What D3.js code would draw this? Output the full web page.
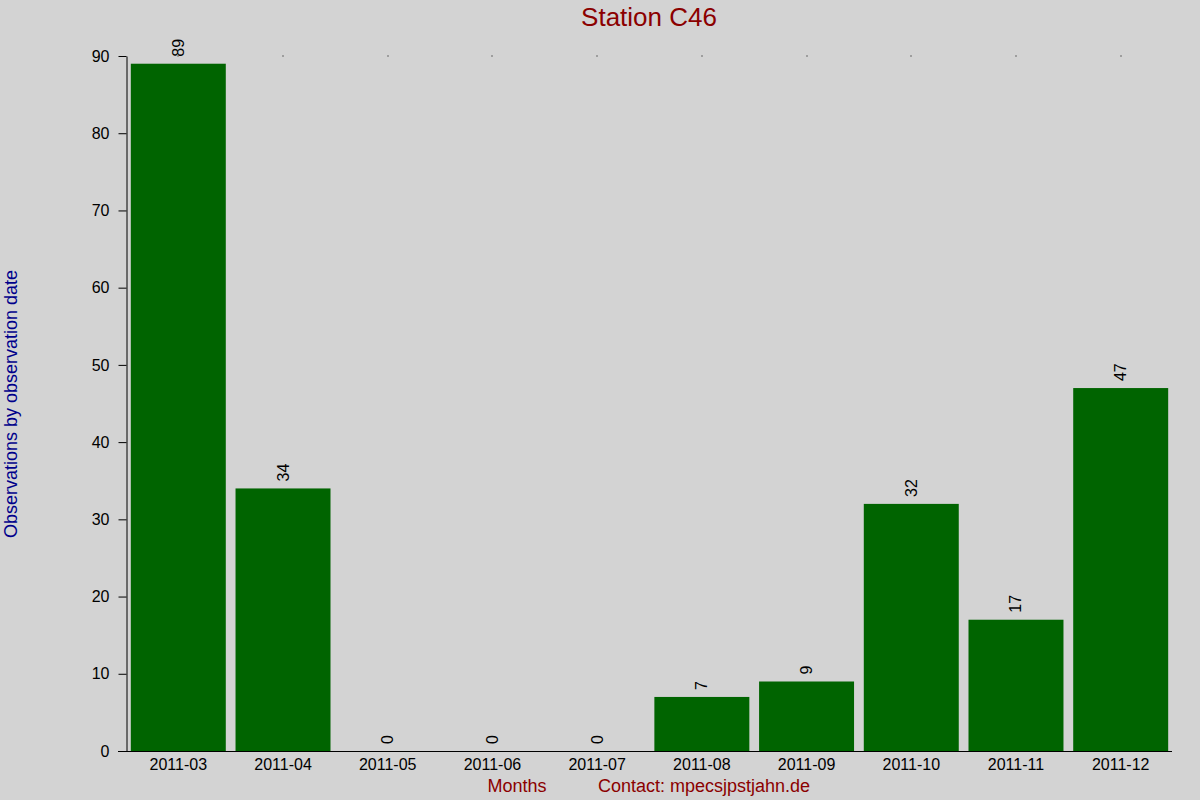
<!DOCTYPE html>
<html>
<head>
<meta charset="utf-8">
<script src="https://cdn.jsdelivr.net/npm/d3@7"></script>
<style>
  html, body { margin: 0; padding: 0; background: #d3d3d3; }
  svg { display: block; font-family: "Liberation Sans", Arial, sans-serif; }
</style>
</head>
<body>
<svg id="chart" width="1200" height="800"></svg>
<script>
// data
const months = ["2011-03", "2011-04", "2011-05", "2011-06", "2011-07",
                "2011-08", "2011-09", "2011-10", "2011-11", "2011-12"];
const counts = [89, 34, 0, 0, 0, 7, 9, 32, 17, 47];
const yTicks = [0, 10, 20, 30, 40, 50, 60, 70, 80, 90];

const svg = d3.select("#chart");

svg.append("rect")
    .attr("width", 1200)
    .attr("height", 800)
    .attr("fill", "#d3d3d3");

// scales
const xScale = d3.scaleBand()
    .domain(months)
    .range([126, 1173])
    .paddingInner(0.093)
    .paddingOuter(0.046);

const yScale = d3.scaleLinear()
    .domain([0, 90])
    .range([751, 56]);

// bars
svg.selectAll(".bar")
    .data(months)
    .enter()
    .append("rect")
    .attr("class", "bar")
    .attr("x", d => xScale(d))
    .attr("width", xScale.bandwidth())
    .attr("y", (d, i) => yScale(counts[i]))
    .attr("height", (d, i) => yScale(0) - yScale(counts[i]))
    .attr("fill", "#006400");

// tiny marks on the top line
svg.selectAll(".topmark")
    .data(months)
    .enter()
    .append("rect")
    .attr("class", "topmark")
    .attr("x", d => Math.round(xScale(d) + xScale.bandwidth() / 2) - 0.5)
    .attr("y", yScale(90) - 0.5)
    .attr("width", 1)
    .attr("height", 1)
    .attr("fill", "#000");

// y axis
const yAxis = svg.append("g")
    .attr("transform", "translate(126.5,0)")
    .call(d3.axisLeft(yScale).tickValues(yTicks).tickSize(8).tickSizeOuter(0).tickPadding(9));
yAxis.selectAll("text").style("font-size", "16px").style("fill", "#000")
    .style("font-family", "'Liberation Sans', Arial, sans-serif");
yAxis.selectAll("line, path").attr("stroke", "#000");

// x axis
const xAxis = svg.append("g")
    .attr("transform", "translate(0,751.5)")
    .call(d3.axisBottom(xScale).tickSize(0).tickPadding(7));
xAxis.select(".domain").attr("d", "M118,0H1172").attr("stroke", "#000");
xAxis.selectAll("text").style("font-size", "16px").style("fill", "#000")
    .style("font-family", "'Liberation Sans', Arial, sans-serif");

// value labels
svg.selectAll(".val")
    .data(months)
    .enter()
    .append("text")
    .attr("class", "val")
    .attr("transform", (d, i) =>
        `translate(${xScale(d) + xScale.bandwidth() / 2 + 5.5},${yScale(counts[i]) - 7}) rotate(-90)`)
    .attr("text-anchor", "start")
    .style("font-size", "16px")
    .style("fill", "#000")
    .text((d, i) => counts[i]);

// title
svg.append("text")
    .attr("x", 649)
    .attr("y", 26)
    .attr("text-anchor", "middle")
    .style("font-size", "26px")
    .style("fill", "#8b0000")
    .text("Station C46");

// y axis label
svg.append("text")
    .attr("transform", "translate(17,404) rotate(-90)")
    .attr("text-anchor", "middle")
    .style("font-size", "18px")
    .style("fill", "#00008b")
    .text("Observations by observation date");

// x axis label and contact line
svg.append("text")
    .attr("x", 517)
    .attr("y", 792)
    .attr("text-anchor", "middle")
    .style("font-size", "18px")
    .style("fill", "#8b0000")
    .text("Months");

svg.append("text")
    .attr("x", 598)
    .attr("y", 792)
    .attr("textLength", 212)
    .attr("lengthAdjust", "spacing")
    .style("font-size", "18px")
    .style("fill", "#8b0000")
    .text("Contact: mpecsjpstjahn.de");
</script>
</body>
</html>
